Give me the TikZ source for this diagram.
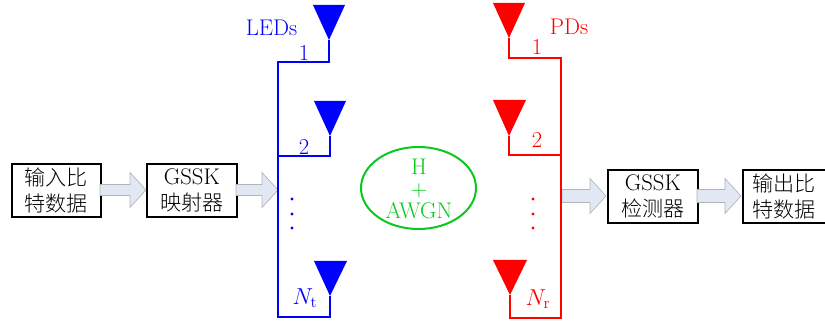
\documentclass[tikz,border=0pt]{standalone}
\usepackage{fontspec}
\newfontfamily\cjk{Noto Sans CJK SC Light}[Scale=0.93]
\usetikzlibrary{shapes.arrows}
\definecolor{arrowfill}{RGB}{225,232,243}
\definecolor{arrowline}{RGB}{175,180,185}
\definecolor{ledblue}{RGB}{0,0,255}
\definecolor{pdred}{RGB}{255,0,0}
\definecolor{awgn}{RGB}{10,200,30}
\tikzset{
  x=0.75pt,y=-0.75pt,
  blockbox/.style={draw=black,line width=1.3pt,fill=white,anchor=north west,inner sep=0pt,align=center,font=\fontsize{17}{19.5}\selectfont},
  ant/.style={line width=1.5pt},
  lab/.style={inner sep=0pt,font=\fontsize{17}{16.5}\selectfont},
  bigarrow/.style={draw=arrowline,fill=arrowfill,line width=0.5pt},
  dotmark/.style={circle,inner sep=0pt,minimum size=2.4pt},
}
\newcommand{\blockarrow}[6]{% x0 xh xtip ycenter halfshaft halfhead
  \draw[bigarrow] (#1,#4-#5) -- (#2,#4-#5) -- (#2,#4-#6) -- (#3,#4) -- (#2,#4+#6) -- (#2,#4+#5) -- (#1,#4+#5) -- cycle;}
\begin{document}
\begin{tikzpicture}
\useasboundingbox (0,0) rectangle (825,323);
% blocks
\node[blockbox,minimum width=66.75pt,minimum height=39.75pt] (b1) at (11,163) {{\cjk 输入比}\\{\cjk 特数据}};
\node[blockbox,minimum width=67.5pt,minimum height=39.75pt] (b2) at (146,163) {GSSK\\{\cjk 映射器}};
\node[blockbox,minimum width=67.5pt,minimum height=39.75pt] (b3) at (607,169) {GSSK\\{\cjk 检测器}};
\node[blockbox,minimum width=62.25pt,minimum height=39.75pt] (b4) at (742,169) {{\cjk 输出比}\\{\cjk 特数据}};
% block arrows
\blockarrow{100}{130}{146}{190}{5.5}{17.5}{}
\blockarrow{236}{262}{278}{190}{5.5}{17.5}{}
\blockarrow{562}{590}{606}{196}{6.5}{17.5}{}
\blockarrow{697}{725}{741}{196}{6.5}{17.5}{}
% coordinates
\coordinate (bt) at (278,62);
\coordinate (bb) at (278,317);
\coordinate (bm) at (278,156);
\coordinate (t1) at (329,40);
\coordinate (t2) at (330,136);
\coordinate (t3) at (330,296);
\coordinate (c1) at (329,62);
\coordinate (c2) at (330,156);
\coordinate (c3) at (330,317);
\coordinate (rt) at (561,58);
\coordinate (rb) at (561,318);
\coordinate (rm) at (561,155);
\coordinate (s1) at (509,38);
\coordinate (s2) at (509,136);
\coordinate (s3) at (510,295);
\coordinate (d1) at (509,58);
\coordinate (d2) at (509,155);
\coordinate (d3) at (510,318);
% blue feed
\draw[ant,ledblue,line join=miter] (t1) -- (c1) -- (bt) -- (bb) -- (c3) -- (t3);
\draw[ant,ledblue] (bm) -- (c2) -- (t2);
\fill[ledblue] (313,5) -- (345,5) -- (t1) -- cycle;
\fill[ledblue] (314,101) -- (346,101) -- (t2) -- cycle;
\fill[ledblue] (314,261) -- (347,261) -- (t3) -- cycle;
% red feed
\draw[ant,pdred,line join=miter] (s1) -- (d1) -- (rt) -- (rb) -- (d3) -- (s3);
\draw[ant,pdred] (rm) -- (d2) -- (s2);
\fill[pdred] (493,3) -- (525,3) -- (s1) -- cycle;
\fill[pdred] (493,100) -- (526,100) -- (s2) -- cycle;
\fill[pdred] (493,260) -- (527,260) -- (s3) -- cycle;
% labels
\node[lab,text=ledblue] (ledl) at (271.5,28) {LEDs};
\node[lab,text=ledblue] (n1) at (304,53) {1};
\node[lab,text=ledblue] (n2) at (304,147) {2};
\node[lab,text=ledblue] (nt) at (305,298) {$N_{\mathrm{t}}$};
\node[lab,text=pdred] (pdl) at (569,27) {PDs};
\node[lab,text=pdred] (m1) at (537,47) {1};
\node[lab,text=pdred] (m2) at (537,140) {2};
\node[lab,text=pdred] (nr) at (538,299) {$N_{\mathrm{r}}$};
\foreach \y/\n in {199/1,214/2,228/3}{
  \node[dotmark,fill=ledblue] (bd\n) at (292,\y) {};
  \node[dotmark,fill=pdred] (rd\n) at (533,\y) {};
}
% channel
\draw[awgn,line width=1.5pt] (418.5,188) ellipse [x radius=57.5,y radius=41];
\node[lab,text=awgn,align=center] (ch) at (419,189) {H\\+\\AWGN};
\end{tikzpicture}
\end{document}
